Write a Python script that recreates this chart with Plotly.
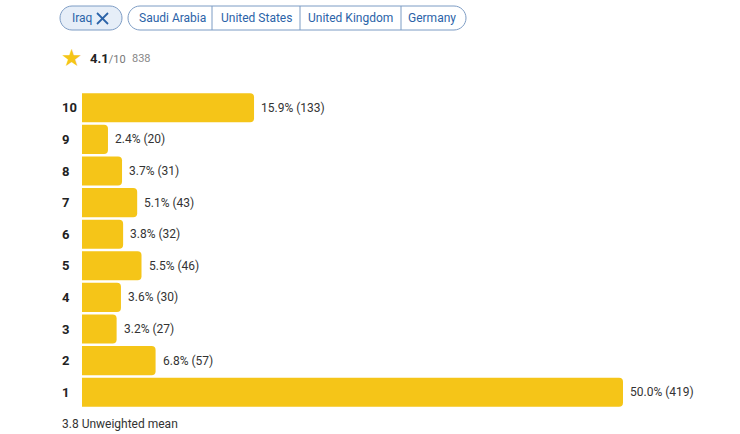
import plotly.graph_objects as go

ratings = [1, 2, 3, 4, 5, 6, 7, 8, 9, 10]
percents = [50.0, 6.8, 3.2, 3.6, 5.5, 3.8, 5.1, 3.7, 2.4, 15.9]
counts = [419, 57, 27, 30, 46, 32, 43, 31, 20, 133]
countries = ["Saudi Arabia", "United States", "United Kingdom", "Germany"]
selected_country = "Iraq"
avg_rating = "4.1"
total_votes = "838"
unweighted_mean = "3.8"

W, H = 740, 434
L, R, T, B = 82, 0, 92, 26
PW, PH = W - L - R, H - T - B
PX_PER_PCT = 10.82

def px(x):
    return (x - L) / PW

def py(y):
    return (H - B - y) / PH

def pill_path(x0, y0, x1, y1, r):
    k = 0.5523 * r
    pts = []
    pts.append(f"M{px(x0 + r)},{py(y0)}")
    pts.append(f"L{px(x1 - r)},{py(y0)}")
    pts.append(f"C{px(x1 - r + k)},{py(y0)} {px(x1)},{py(y0 + r - k)} {px(x1)},{py(y0 + r)}")
    pts.append(f"L{px(x1)},{py(y1 - r)}")
    pts.append(f"C{px(x1)},{py(y1 - r + k)} {px(x1 - r + k)},{py(y1)} {px(x1 - r)},{py(y1)}")
    pts.append(f"L{px(x0 + r)},{py(y1)}")
    pts.append(f"C{px(x0 + r - k)},{py(y1)} {px(x0)},{py(y1 - r + k)} {px(x0)},{py(y1 - r)}")
    pts.append(f"L{px(x0)},{py(y0 + r)}")
    pts.append(f"C{px(x0)},{py(y0 + r - k)} {px(x0 + r - k)},{py(y0)} {px(x0 + r)},{py(y0)}")
    pts.append("Z")
    return " ".join(pts)

BLUE = "#2b63a8"
BORDER = "#7d9cc4"
FONT = "Roboto"

fig = go.Figure()
fig.add_trace(go.Bar(
    x=percents, y=ratings, orientation="h",
    marker=dict(color="#F5C518", cornerradius=4, line=dict(width=0)),
    hoverinfo="skip",
))

annotations = []
for r, p, c in zip(ratings, percents, counts):
    annotations.append(dict(x=p, y=r, xref="x", yref="y", text=f"{p:.1f}% ({c})",
                            showarrow=False, xanchor="left", yanchor="middle", xshift=5,
                            font=dict(family=FONT, size=12, color="#333333")))
    annotations.append(dict(x=px(60), y=r, xref="paper", yref="y", text=f"<b>{r}</b>",
                            showarrow=False, xanchor="left", yanchor="middle",
                            font=dict(family=FONT, size=13, color="#222222")))

def note(x, y, text, size=12, color=BLUE, family=FONT, xanchor="left"):
    annotations.append(dict(x=px(x), y=py(y), xref="paper", yref="paper", text=text,
                            showarrow=False, xanchor=xanchor, yanchor="middle",
                            font=dict(family=family, size=size, color=color)))

shapes = []
# selected chip
shapes.append(dict(type="path", xref="paper", yref="paper", path=pill_path(60, 6, 122, 30, 12),
                   fillcolor="#e6eef8", line=dict(color=BORDER, width=1), layer="above"))
note(70, 18, selected_country)
for (a, b, c, d) in [(97, 13, 108, 24), (97, 24, 108, 13)]:
    shapes.append(dict(type="line", xref="paper", yref="paper", x0=px(a), y0=py(b), x1=px(c), y1=py(d),
                       line=dict(color=BLUE, width=1.8), layer="above"))
# group chip
shapes.append(dict(type="path", xref="paper", yref="paper", path=pill_path(128, 6, 466, 30, 12),
                   fillcolor="white", line=dict(color=BORDER, width=1), layer="above"))
bounds = [128, 212, 300, 401, 466]
for i, name in enumerate(countries):
    if i > 0:
        shapes.append(dict(type="line", xref="paper", yref="paper", x0=px(bounds[i]), x1=px(bounds[i]),
                           y0=py(6), y1=py(30), line=dict(color=BORDER, width=1), layer="above"))
    cx = (bounds[i] + bounds[i + 1]) / 2 + (2 if i == 0 else (-2 if i == 3 else 0))
    note(cx, 18, name, xanchor="center")

# rating line
note(72, 58, "★", size=24, color="#F5C518", family="DejaVu Sans", xanchor="center")
note(88, 58, f"<b>{avg_rating}</b><span style='font-size:11px;color:#777777'>/10</span>",
     size=13, color="#222222")
note(130, 58, total_votes, size=11, color="#888888")
# bottom
note(60, 424, f"{unweighted_mean} Unweighted mean", size=12, color="#333333")

fig.update_layout(
    width=W, height=H,
    margin=dict(l=L, r=R, t=T, b=B, pad=0),
    paper_bgcolor="white", plot_bgcolor="white",
    showlegend=False, bargap=0.08,
    xaxis=dict(range=[0, PW / PX_PER_PCT], visible=False, fixedrange=True),
    yaxis=dict(range=[0.5, 10.5], visible=False, fixedrange=True),
    annotations=annotations, shapes=shapes,
    font=dict(family=FONT),
)

fig.write_html("out.html", config={"displayModeBar": False})
